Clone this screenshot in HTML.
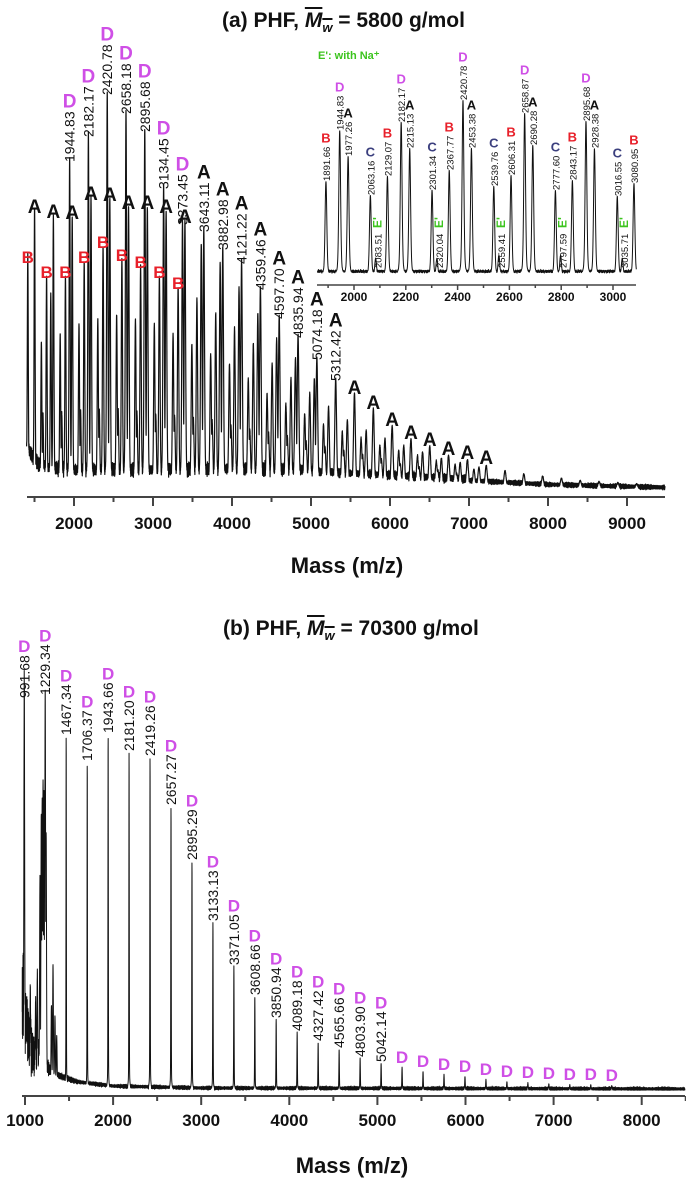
<!DOCTYPE html>
<html><head><meta charset="utf-8"><style>
html,body{margin:0;padding:0;background:#fff;}
#wrap{position:relative;width:686px;height:1183px;overflow:hidden;font-family:"Liberation Sans",sans-serif;}
.title{position:absolute;font-weight:bold;font-size:21px;color:#111;white-space:nowrap;}
.mw{font-style:italic;text-decoration:overline;}
.mw sub{font-size:13px;}
</style></head><body>
<div id="wrap">
<div class="title" style="left:222px;top:9px;">(a) PHF, <span class="mw">M<sub>w</sub></span> = 5800 g/mol</div>
<div class="title" style="left:223px;top:617px;">(b) PHF, <span class="mw">M<sub>w</sub></span> = 70300 g/mol</div>
<svg id="svg" width="686" height="1183" xmlns="http://www.w3.org/2000/svg" style="position:absolute;left:0;top:0"></svg>
</div>
<script>
// ---------- panel (a) main spectrum ----------
const topAMass=[1501,1739,1977.26,2215.13,2453.38,2690.28,2928.38,3166,3404,3643.11,3882.98,4121.22,4359.46,4597.70,4835.94,5074.18,5312.42,5550,5789,6027,6265,6503,6741,6980,7218,7456,7694,7932,8170,8408,8646,8884,9122];
const topAInt=[273,268,267,286,285,277,277,273,263,255,237,223,197,168,149,127,106,92,77,60,47,40,31,27,22,17,14,12,10,8,7,6,5];
const topALabel=["","","","","","","","","","3643.11","3882.98","4121.22","4359.46","4597.70","4835.94","5074.18","5312.42","","","","","","","","",null,null,null,null,null,null,null,null];
const topDMass=[1706,1944.83,2182.17,2420.78,2658.18,2895.68,3134.45,3373.45,3611,3850,4089,4327,4565,4803,5042];
const topDInt=[190,325,350,392,373,355,298,262,240,220,195,170,145,125,105];
const topDLabel=[null,"1944.83","2182.17","2420.78","2658.18","2895.68","3134.45","3373.45",null,null,null,null,null,null,null];
const topBMass=[1415,1653,1891.66,2129.07,2367.77,2606.31,2843.17,3080.95,3318,3556,3794,4032,4270,4508,4746,4984,5222,5460,5698,5936,6174,6412,6650,6888,7126];
const topBInt=[223,208,208,223,238,225,218,208,197,185,170,155,140,120,105,90,78,65,55,47,40,34,28,24,20];
const topBLetters=9;
const topCMass=[1587,1825,2063.16,2301.34,2539.76,2777.60,3016.55,3254,3492,3730,3968,4206,4444,4682,4920,5158,5396,5634,5872,6110,6348,6586,6824,7062];
const topCInt=[140,150,160,165,170,165,160,150,140,130,120,105,90,80,70,60,53,47,40,35,30,25,22,18];
const topEMass=[1607,1845,2083,2320,2559,2797,3035,3273,3511,3749,3987,4225,4463,4701,4939,5177,5415,5653,5891,6129,6367,6605,6843];
const topEInt=[70,72,75,75,75,72,70,68,65,62,58,54,50,46,42,38,34,30,26,22,19,16,13];
const topBaseM=[1400,1450,1550,1700,2000,3000,4000,5000,6000,7000,8000,9500];
const topBaseI=[45,32,22,18,16,16,17,16,12,8,4,1];
const topTicks=[2000,3000,4000,5000,6000,7000,8000,9000];
// ---------- inset ----------
const inBMass=[1891.66,2129.07,2367.77,2606.31,2843.17,3080.95];
const inBInt=[94,99,105,100,95,92];
const inDMass=[1944.83,2182.17,2420.78,2658.87,2895.68];
const inDInt=[145,153,175,162,154];
const inAMass=[1977.26,2215.13,2453.38,2690.28,2928.38];
const inAInt=[119,127,127,130,127];
const inCMass=[2063.16,2301.34,2539.76,2777.60,3016.55];
const inCInt=[80,85,89,85,79];
const inEMass=[2083.51,2320.04,2559.41,2797.59,3035.71];
const inEInt=[17,17,20,20,17];
const inTicks=[2000,2200,2400,2600,2800,3000];
// ---------- panel (b) ----------
const botMass=[991.68,1229.34,1467.34,1706.37,1943.66,2181.20,2419.26,2657.27,2895.29,3133.13,3371.05,3608.66,3850.94,4089.18,4327.42,4565.66,4803.90,5042.14,5280,5518,5756,5994,6232,6470,6708,6946,7184,7422,7660];
const botInt=[390,393,353,327,355,337,332,283,228,167,123,93,70,57,47,40,31,26,22,18,15,13,10,8,7,6,5,5,4];
const botLabel=["991.68","1229.34","1467.34","1706.37","1943.66","2181.20","2419.26","2657.27","2895.29","3133.13","3371.05","3608.66","3850.94","4089.18","4327.42","4565.66","4803.90","5042.14","","","","","","","","","","",""];
const botClusterMass=[1020,1060,1120,1140,1170,1185,1195,1205,1215,1225,1240,1300,1318,1340,1360];
const botClusterInt=[70,90,80,110,200,270,280,300,290,280,250,80,120,70,50];
const botBaseM=[970,1000,1050,1100,1150,1300,1400,1600,2000,3000,8500];
const botBaseI=[60,45,30,20,30,15,12,7,3,1,0];
const botTicks=[1000,2000,3000,4000,5000,6000,7000,8000];

const NS="http://www.w3.org/2000/svg";
const svg=document.getElementById('svg');
const C_D="#cf4fe6",C_B="#e8202a",C_C="#3b3f7e",C_E="#3cc41e";
function mk(tag,attrs,parent){const e=document.createElementNS(NS,tag);for(const k in attrs)e.setAttribute(k,attrs[k]);(parent||svg).appendChild(e);return e;}
function interp(xs,ys,m){if(m<=xs[0])return ys[0];for(let i=1;i<xs.length;i++){if(m<=xs[i]){const t=(m-xs[i-1])/(xs[i]-xs[i-1]);return ys[i-1]+t*(ys[i]-ys[i-1]);}}return ys[ys.length-1];}
function wig(m){return 0.5*Math.sin(m*2.31)+0.3*Math.sin(m*5.73+1.3)+0.2*Math.sin(m*0.93+2.1)+0.25*Math.sin(m*13.1);}

const xTop=m=>74+(m-2000)*0.0790, yTop=i=>490-i;
const xIn=m=>354+(m-2000)*0.259, yIn=i=>277-i;
const xBot=m=>25+(m-1000)*0.0881, yBot=i=>1090-i;

function trace(name,groups,m0,m1,step,xs,ys,baseM,baseI,sigFn,noiseFn){
  let d="";
  for(let m=m0;m<=m1;m+=step){
    const base=interp(baseM,baseI,m)+noiseFn(m);
    let pk=0;
    for(const g of groups){for(let k=0;k<g[0].length;k++){const c=g[0][k];const dm=m-c;const s=sigFn(c);if(Math.abs(dm)<s*8){const v=g[1][k]*(Math.exp(-dm*dm/(2*s*s))*0.85+0.15/(1+dm*dm/(s*s*4)));if(v>pk)pk=v;}}}
    const v=Math.max(base,pk+base*0.3);
    d+=(d?"L":"M")+xs(m).toFixed(2)+","+ys(v).toFixed(2);
  }
  const p=mk('path',{d:d,fill:'none',stroke:'#111','stroke-width':1,'stroke-linejoin':'round'});
  
  
  return p;
}
function vtext(str,x,y,size,color,name){
  const t=mk('text',{x:0,y:0,transform:`translate(${x},${y}) rotate(-90)`,'font-size':size,fill:color,'font-family':'"Liberation Sans",sans-serif'});
  t.textContent=str;
  
  
  return t.getComputedTextLength();
}
function letter(str,x,y,size,color,name){
  const t=mk('text',{x:x,y:y,'font-size':size,'font-weight':'bold',fill:color,'text-anchor':'middle','font-family':'"Liberation Sans",sans-serif'});
  t.textContent=str;
  
  
  return t;
}
function axis(name,y,x0,x1,ticks,minorStep,xs,mMin,mMax,fs,majLen,minLen,labY,sw){
  const a=mk('line',{x1:x0,x2:x1,y1:y,y2:y,stroke:'#444','stroke-width':sw});
  
  
  for(let m=Math.ceil(mMin/minorStep)*minorStep;m<=mMax;m+=minorStep){
    const major=ticks.indexOf(m)>=0;
    const t=mk('line',{x1:xs(m),x2:xs(m),y1:y,y2:y+(major?majLen:minLen),stroke:'#444','stroke-width':sw});
    
    
  }
  for(const m of ticks){
    const l=mk('text',{x:xs(m),y:labY,'font-size':fs,'font-weight':'bold','text-anchor':'middle',fill:'#111','font-family':'"Liberation Sans",sans-serif'});
    l.textContent=m;
    
    
  }
}

// ===== Panel (a) =====
trace('spectrum-a',[[topAMass,topAInt],[topDMass,topDInt],[topBMass,topBInt],[topCMass,topCInt],[topEMass,topEInt]],1400,9480,1,xTop,yTop,topBaseM,topBaseI,c=>4+c*0.0012,m=>{const a=m<5000?7:m<7000?4.5:2.5;return a*(wig(m)+0.6);}).setAttribute('stroke-width',1.2);
axis('x-axis-a',497,27,665,topTicks,500,xTop,1400,9480,17,9,5,529,2);
letter('Mass (m/z)',347,573,22,'#111','x-axis-title-a');

topAMass.forEach((m,i)=>{const lab=topALabel[i];if(lab===null)return;const x=xTop(m),top=yTop(topAInt[i]);let yy=top-4;
  if(lab){const L=vtext(lab,x+5,top-3,14,'#111','peak-label-a');yy=top-3-L-4;}
  letter('A',x,yy,19,'#111','series-a-marker');});
topDMass.forEach((m,i)=>{const lab=topDLabel[i];if(!lab)return;const x=xTop(m),top=yTop(topDInt[i]);
  const L=vtext(lab,x+5,top-3,14,'#111','peak-label-d');letter('D',x,top-3-L-4,19,C_D,'series-d-marker');});
topBMass.forEach((m,i)=>{if(i>=topBLetters)return;const x=xTop(m),top=yTop(topBInt[i]);letter('B',x,top-4,17,C_B,'series-b-marker');});

// ===== Inset =====
const clip=mk('clipPath',{id:'inclip'});mk('rect',{x:317,y:40,width:320,height:250},clip);
const g=mk('g',{'clip-path':'url(#inclip)'});
const ip=trace('inset-spectrum',[[inBMass,inBInt],[inDMass,inDInt],[inAMass,inAInt],[inCMass,inCInt],[inEMass,inEInt]],1858,3090,0.5,xIn,yIn,[1850,3100],[5,5],c=>3.2,m=>1.6*(wig(m*0.7)+0.4));
g.appendChild(ip);
axis('x-axis-inset',285,317,636,inTicks,100,xIn,1860,3089,12,5,3,301,1.5);
const na=mk('text',{x:318,y:59,'font-size':11,'font-weight':'bold',fill:C_E,'font-family':'"Liberation Sans",sans-serif'});
na.textContent="E': with Na⁺";


function inLab(ms,is,ch,col,nm){ms.forEach((m,i)=>{const x=xIn(m),top=yIn(is[i]);const L=vtext(m.toFixed(2),x+4,top-2,9.5,'#111','inset-peak-label');letter(ch,x,top-2-L-4,13,col,nm);});}
inLab(inBMass,inBInt,'B',C_B,'inset-b-marker');
inLab(inDMass,inDInt,'D',C_D,'inset-d-marker');
inLab(inAMass,inAInt,'A','#111','inset-a-marker');
inLab(inCMass,inCInt,'C',C_C,'inset-c-marker');
inEMass.forEach((m,i)=>{const x=xIn(m)+2;vtext(m.toFixed(2),x+4,268,9.5,'#111','inset-e-label');
  const t=mk('text',{x:0,y:0,transform:`translate(${x+4},228) rotate(-90)`,'font-size':12,'font-weight':'bold',fill:C_E,'font-family':'"Liberation Sans",sans-serif'});
  t.textContent="E'";
  
  });

// ===== Panel (b) =====
trace('spectrum-b',[[botMass,botInt],[botClusterMass,botClusterInt]],968,8490,1,xBot,yBot,botBaseM,botBaseI,c=>c<1400?4:1.6+c*0.0002,m=>{const a=2+55*Math.exp(-(m-1000)/120);return a*(wig(m)+0.5);});
axis('x-axis-b',1096,22,685,botTicks,500,xBot,966,8500,17,9,5,1126,2);
letter('Mass (m/z)',352,1173,22,'#111','x-axis-title-b');
botMass.forEach((m,i)=>{const x=xBot(m),top=yBot(botInt[i]);const lab=botLabel[i];let yy=top-5;
  if(lab){const L=vtext(lab,x+5,top-2,14,'#111','peak-label-b');yy=top-2-L-3;}
  letter('D',x,yy,17,C_D,'series-d-marker-b');});
</script>
</body></html>
